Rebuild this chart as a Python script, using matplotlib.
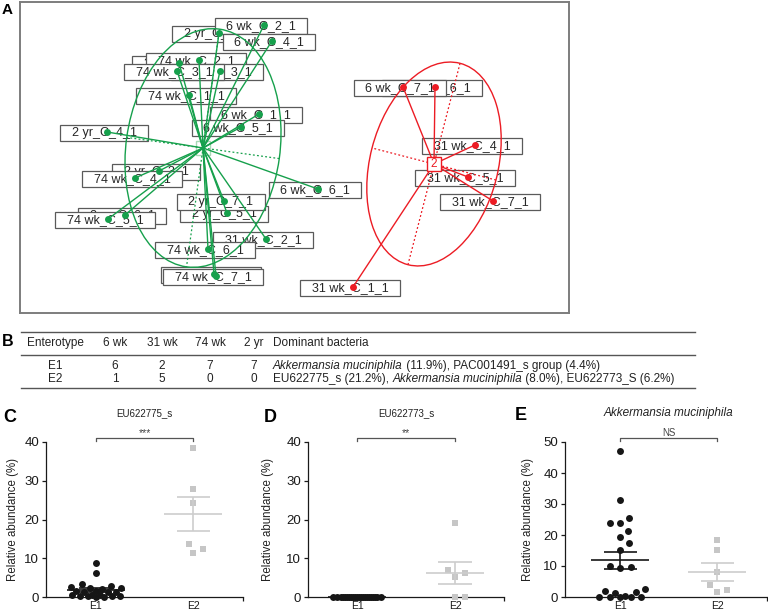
import numpy as np
import matplotlib
matplotlib.use("Agg")
import matplotlib.pyplot as plt
from matplotlib.patches import Ellipse
from matplotlib.path import Path

plt.rcParams['font.family'] = ['Liberation Sans', 'DejaVu Sans']

# ---------------- Panel A: sample ordination (PCA-like coordinates) ----------------
sample_labels = ["2 yr_C_1_1", "6 wk_C_2_1", "6 wk_C_4_1", "2 yr_C_2_1", "74 wk_C_2_1",
                 "6 wk_C_3_1", "74 wk_C_3_1", "74 wk_C_1_1", "6 wk_C_1_1", "6 wk_C_5_1",
                 "2 yr_C_4_1", "2 yr_C_3_1", "74 wk_C_4_1", "6 wk_C_6_1", "2 yr_C_5_1",
                 "2 yr_C_7_1", "2 yr_C_6_1", "74 wk_C_5_1", "31 wk_C_2_1", "74 wk_C_6_1",
                 "31 wk_C_3_1", "74 wk_C_7_1",
                 "31 wk_C_6_1", "6 wk_C_7_1", "31 wk_C_4_1", "31 wk_C_5_1", "31 wk_C_7_1",
                 "31 wk_C_1_1"]
pc1 = [219, 264, 272, 179, 199, 220, 177, 189, 259, 241, 107, 159, 135, 318, 227,
       224, 125, 108, 266, 208, 214, 216,
       435, 403, 475, 468, 493, 353]
pc2 = [33, 25, 41, 63, 60, 71, 71, 95, 114, 127, 132, 171, 178, 189, 213,
       201, 215, 219, 239, 249, 274, 276,
       87, 87, 145, 177, 201, 287]
enterotype = [1] * 22 + [2] * 6

cluster_names = ["1", "2"]
centroid_x = [203, 434]
centroid_y = [148, 164]
ellipse_semi_major = [120, 104]
ellipse_semi_minor = [77, 64]
ellipse_tilt = [7.9, 14.5]

# ---------------- Panel B: table ----------------
table_header = ["Enterotype", "6 wk", "31 wk", "74 wk", "2 yr"]
table_header_last = "Dominant bacteria"
table_groups = ["E1", "E2"]
counts_6wk = [6, 1]
counts_31wk = [2, 5]
counts_74wk = [7, 0]
counts_2yr = [7, 0]
dominant_e1 = [("Akkermansia muciniphila", True), (" (11.9%), PAC001491_s group (4.4%)", False)]
dominant_e2 = [("EU622775_s (21.2%), ", False), ("Akkermansia muciniphila", True),
               (" (8.0%), EU622773_S (6.2%)", False)]

# ---------------- Panels C-E: relative abundance ----------------
groups = ["E1", "E2"]
eu622775_e1 = [8.8, 6.1, 3.3, 2.9, 2.6, 2.4, 2.2, 2.0, 1.6, 1.5, 1.4, 1.3, 1.2,
               0.5, 0.4, 0.4, 0.3, 0.3, 0.2, 0.2, 0.1, 0.1]
eu622775_e2 = [38.5, 28.0, 24.3, 13.8, 11.4, 12.3]
eu622773_e1 = [0.0, 0.0, 0.0, 0.0, 0.0, 0.0, 0.0, 0.0, 0.0, 0.0, 0.0,
               0.0, 0.0, 0.0, 0.0, 0.0, 0.0, 0.0, 0.0, 0.0, 0.0, 0.0]
eu622773_e2 = [19.2, 7.0, 6.2, 5.2, 0.0, 0.0]
akk_e1 = [47.0, 31.2, 25.6, 23.8, 23.8, 21.4, 19.2, 17.3, 15.3, 9.6, 9.2, 9.9,
          1.9, 1.3, 2.7, 1.6, 0.0, 0.0, 0.0, 0.3, 0.0, 0.0]
akk_e2 = [18.5, 15.1, 8.0, 3.8, 1.5, 2.2]

# ---------------- figure ----------------
W, H = 768, 615
fig = plt.figure(figsize=(W / 100, H / 100), dpi=100)


def box(x0, y0, x1, y1):
    return [x0 / W, 1 - y1 / H, (x1 - x0) / W, (y1 - y0) / H]


# overlay axes in pixel units for free text / table rules
axT = fig.add_axes([0, 0, 1, 1])
axT.set_xlim(0, W)
axT.set_ylim(H, 0)
axT.axis('off')

GREEN = '#16a04c'
RED = '#ec1c24'
LIGHT_GREEN = '#a6d9b4'
colors = {1: GREEN, 2: RED}


def label_box(x0, y0, width, height, mutation_size):
    padx = 0.92 * mutation_size
    pady = 0.17 * mutation_size
    return Path([(x0 - padx, y0 - pady), (x0 + width + padx, y0 - pady),
                 (x0 + width + padx, y0 + height + pady), (x0 - padx, y0 + height + pady),
                 (x0 - padx, y0 - pady)], closed=True)


def square_box(x0, y0, width, height, mutation_size):
    cx = x0 + width / 2
    cy = y0 + height / 2
    s = 0.62 * mutation_size
    return Path([(cx - s, cy - s), (cx + s, cy - s), (cx + s, cy + s), (cx - s, cy + s),
                 (cx - s, cy - s)], closed=True)


# ---------------- Panel A ----------------
axA = fig.add_axes(box(20, 2, 569, 313))
axA.set_xlim(20, 569)
axA.set_ylim(313, 2)
axA.set_xticks([])
axA.set_yticks([])
for s in axA.spines.values():
    s.set_color('#7d7d7d')
    s.set_linewidth(1.4)

for lab, x, y, g in zip(sample_labels, pc1, pc2, enterotype):
    axA.text(x - 3, y + 1, lab, ha='center', va='center', fontsize=9, color='#262626',
             zorder=2, bbox=dict(boxstyle=label_box, fc='white', ec='#5a5a5a', lw=0.9))

for k in range(2):
    cx, cy = centroid_x[k], centroid_y[k]
    a, b = ellipse_semi_major[k], ellipse_semi_minor[k]
    ang = 90 + ellipse_tilt[k]
    col = colors[k + 1]
    axA.add_patch(Ellipse((cx, cy), 2 * a, 2 * b, angle=ang, fill=False, ec=col,
                          lw=1.0, zorder=3))
    t = np.deg2rad(ang)
    ux, uy = np.cos(t), np.sin(t)
    axA.plot([cx - a * ux, cx + a * ux], [cy - a * uy, cy + a * uy], color=col, lw=0.9,
             ls=(0, (1.5, 1.8)), zorder=3)
    axA.plot([cx + b * uy, cx - b * uy], [cy - b * ux, cy + b * ux], color=col, lw=0.9,
             ls=(0, (1.5, 1.8)), zorder=3)

for x, y, g in zip(pc1, pc2, enterotype):
    axA.plot([centroid_x[g - 1], x], [centroid_y[g - 1], y], color=colors[g], lw=1.0,
             zorder=3)
    axA.plot(x, y, 'o', ms=5.0, mew=0, color=colors[g], zorder=4)

axA.text(centroid_x[0], centroid_y[0], cluster_names[0], ha='center', va='center',
         fontsize=8.5, color=LIGHT_GREEN, zorder=2.5,
         bbox=dict(boxstyle=square_box, fc='white', ec=LIGHT_GREEN, lw=1.0))
axA.text(centroid_x[1], centroid_y[1], cluster_names[1], ha='center', va='center',
         fontsize=8.5, color=RED, zorder=5,
         bbox=dict(boxstyle=square_box, fc='white', ec=RED, lw=1.0))

axT.text(7, 9.5, 'A', ha='center', va='center', fontsize=11, fontweight='bold')

# ---------------- Panel B ----------------
axT.text(8, 342, 'B', ha='center', va='center', fontsize=11.5, fontweight='bold')
rule_kw = dict(color='#555555', lw=1.0)
for yy in (331.7, 355, 388):
    axT.plot([21, 695], [yy, yy], **rule_kw)

col_x = [55, 115, 162, 210, 254]
for xx, h in zip(col_x, table_header):
    axT.text(xx, 343, h, ha='center', va='center', fontsize=8.5, color='#222')
axT.text(273, 343, table_header_last, ha='left', va='center', fontsize=8.5, color='#222')

row_y = [366, 379]
rows = list(zip(table_groups, counts_6wk, counts_31wk, counts_74wk, counts_2yr))
for yy, row, rich in zip(row_y, rows, [dominant_e1, dominant_e2]):
    for xx, v in zip(col_x, row):
        axT.text(xx, yy, str(v), ha='center', va='center', fontsize=8.5, color='#222')
    prev = None
    for piece, ital in rich:
        st = 'italic' if ital else 'normal'
        if prev is None:
            prev = axT.text(273, yy, piece, ha='left', va='center', fontsize=8.5,
                            style=st, color='#222')
        else:
            prev = axT.annotate(piece, xy=(1, 0), xycoords=prev, ha='left', va='bottom',
                                fontsize=8.5, style=st, color='#222')


# ---------------- Panels C-E ----------------
def swarm(ax, xc, values, sep_px, max_half_px):
    vals = np.asarray(values, dtype=float)
    p0 = ax.transData.transform((0, 0))
    p1 = ax.transData.transform((1, 1))
    sx, sy = p1[0] - p0[0], p1[1] - p0[1]
    cands = [0.0]
    for s in np.arange(0.5, max_half_px + 0.01, 0.5):
        cands += [s, -s]
    placed = []
    xs = np.zeros(len(vals))
    for i in np.argsort(vals, kind='stable'):
        y = vals[i] * sy
        best = None
        bestd, bestc = -1.0, 0.0
        for c in cands:
            d = min([np.hypot(c - px, y - py) for px, py in placed], default=np.inf)
            if d >= sep_px:
                best = c
                break
            if d > bestd + 1e-9:
                bestd, bestc = d, c
        if best is None:
            best = bestc
        placed.append((best, y))
        xs[i] = xc + best / sx
    return xs


def dot_panel(rect, xlim, ymax, yticks, e1, e2, stars, title, italic, title_size,
              letter, letter_xy, ylabel_x, title_x, sep1):
    ax = fig.add_axes(box(*rect))
    ax.set_xlim(*xlim)
    ax.set_ylim(0, ymax)
    for sp in ('top', 'right'):
        ax.spines[sp].set_visible(False)
    for sp in ('left', 'bottom'):
        ax.spines[sp].set_linewidth(0.9)
        ax.spines[sp].set_color('#1a1a1a')
    ax.set_yticks(yticks)
    ax.set_xticks([0, 1])
    ax.set_xticklabels(groups)
    ax.set_xticks([xlim[1]], minor=True)
    ax.tick_params(axis='y', direction='out', length=3, width=0.9, labelsize=9.5,
                   pad=2, colors='#1a1a1a')
    ax.tick_params(axis='x', which='major', length=0, labelsize=7.5, pad=3,
                   colors='#1a1a1a')
    ax.tick_params(axis='x', which='minor', length=3, width=0.9, colors='#1a1a1a')

    px_per_unit = (ax.transData.transform((0, 1))[1] - ax.transData.transform((0, 0))[1])

    x1 = swarm(ax, 0, e1, sep1, 25)
    x2 = swarm(ax, 1, e2, 10.0, 13)
    ax.plot(x1, e1, 'o', ms=5.0, mew=0, color='#161616', zorder=3, clip_on=False)
    ax.plot(x2, e2, 's', ms=4.4, mew=0, color='#c6c6c6', zorder=3, clip_on=False)

    for xc, vals, col in ((0, e1, '#161616'), (1, e2, '#cdcdcd')):
        vals = np.asarray(vals, dtype=float)
        m = vals.mean()
        sem = vals.std(ddof=1) / np.sqrt(len(vals))
        kw = dict(color=col, lw=1.2, zorder=4, clip_on=False, solid_capstyle='butt')
        ax.plot([xc - 0.3, xc + 0.3], [m, m], **kw)
        ax.plot([xc - 0.17, xc + 0.17], [m + sem, m + sem], **kw)
        ax.plot([xc - 0.17, xc + 0.17], [m - sem, m - sem], **kw)
        ax.plot([xc, xc], [m - sem, m + sem], **kw)

    by = ymax + 4.0 / px_per_unit
    tick = 3.0 / px_per_unit
    ax.plot([0, 0, 1, 1], [by - tick, by, by, by - tick], color='#555555', lw=0.9,
            clip_on=False)
    ax.text(0.5, by + 2.0 / px_per_unit, stars, ha='center', va='baseline',
            fontsize=7.5 if stars != 'NS' else 7, color='#444444', clip_on=False)

    axT.text(title_x, 413, title, ha='center', va='center', fontsize=title_size,
             style='italic' if italic else 'normal', color='#222')
    axT.text(letter_xy[0], letter_xy[1], letter, ha='center', va='center', fontsize=13,
             fontweight='bold')
    axT.text(ylabel_x, 519.5, 'Relative abundance (%)', rotation=90, ha='center',
             va='center', fontsize=8.3, color='#222')
    return ax


dot_panel((46, 442, 243, 597), (-0.515, 1.515), 40, [0, 10, 20, 30, 40],
          eu622775_e1, eu622775_e2, '***', 'EU622775_s', False, 7.0, 'C', (10, 417),
          13, 144.5, 8.0)
dot_panel((308, 442, 504, 597), (-0.5, 1.5), 40, [0, 10, 20, 30, 40],
          eu622773_e1, eu622773_e2, '**', 'EU622773_s', False, 7.0, 'D', (270, 417),
          268, 406, 8.0)
dot_panel((565, 442, 767, 597), (-0.567, 1.515), 50, [0, 10, 20, 30, 40, 50],
          akk_e1, akk_e2, 'NS', 'Akkermansia muciniphila', True, 8.5, 'E', (521, 416),
          528, 668.5, 10.5)

fig.savefig('out.png', dpi=100)
